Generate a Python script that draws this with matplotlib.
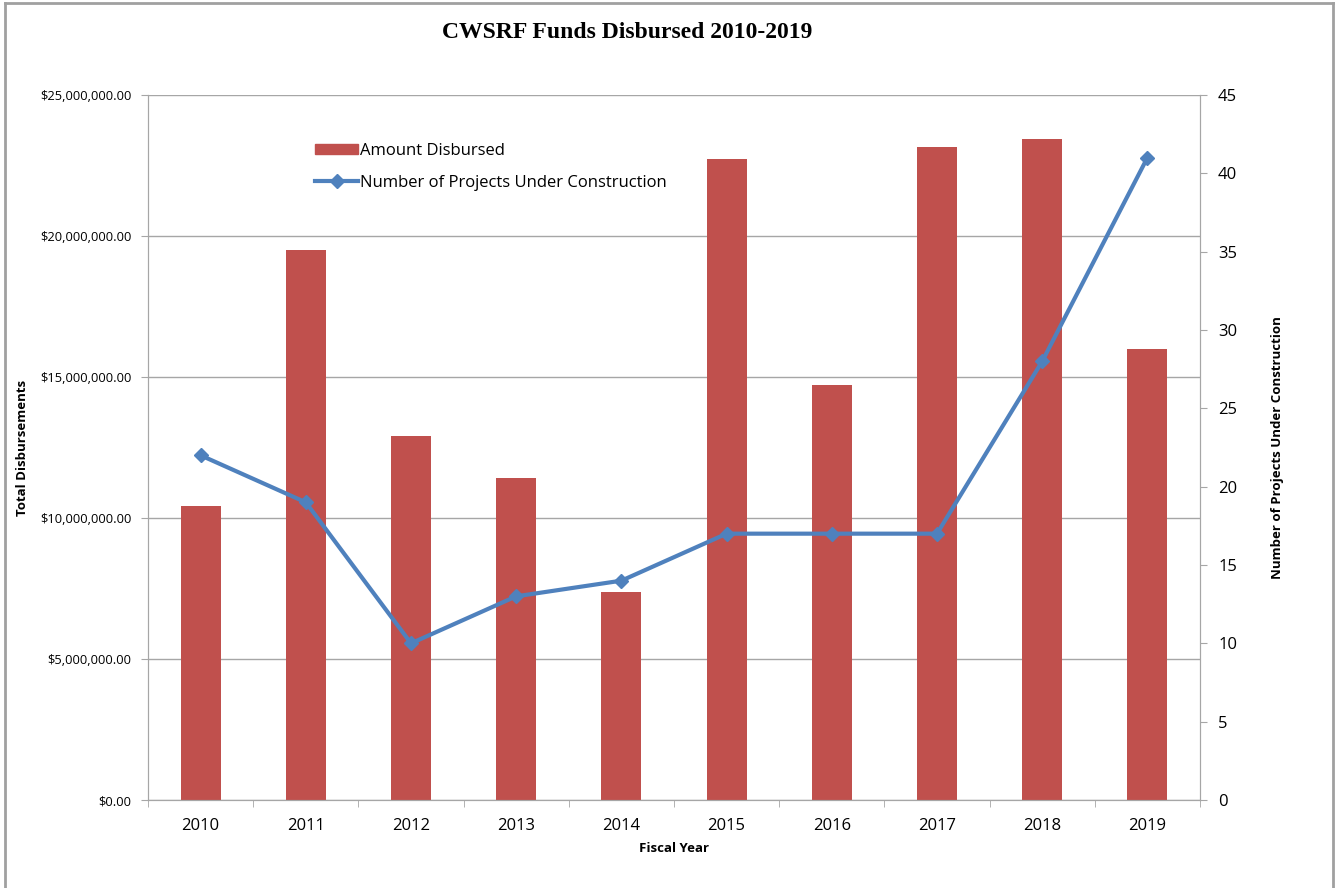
import matplotlib
matplotlib.use("Agg")
import matplotlib.pyplot as plt
from matplotlib.lines import Line2D
from matplotlib.ticker import FuncFormatter, MultipleLocator

years = ["2010", "2011", "2012", "2013", "2014", "2015", "2016", "2017", "2018", "2019"]
disbursed = [10430000, 19500000, 12900000, 11420000, 7380000, 22730000, 14720000, 23160000, 23440000, 15990000]
projects = [22, 19, 10, 13, 14, 17, 17, 17, 28, 41]

plt.rcParams['font.family'] = ['Open Sans', 'DejaVu Sans']

W, H = 1335, 888
fig = plt.figure(figsize=(W / 100, H / 100), dpi=100)
ax = fig.add_axes([148 / W, 1 - 800 / H, (1200 - 148) / W, (800 - 95) / H])
ax2 = ax.twinx()

x = list(range(len(years)))
bar_color = "#C0504D"
line_color = "#4F81BD"
grid_color = "#A6A6A6"

ax.bar(x, disbursed, width=0.38, color=bar_color, zorder=2, label="Amount Disbursed")
ax2.plot(x, projects, color=line_color, lw=3, marker="D", ms=7, zorder=3,
         label="Number of Projects Under Construction")

ax.set_xlim(-0.5, len(years) - 0.5)
ax.set_ylim(0, 25000000)
ax2.set_ylim(0, 45)
ax.yaxis.set_major_locator(MultipleLocator(5000000))
ax2.yaxis.set_major_locator(MultipleLocator(5))
ax.yaxis.set_major_formatter(FuncFormatter(lambda v, p: "${:,.2f}".format(v)))
ax.grid(axis="y", color=grid_color, lw=1, zorder=0)
ax.set_axisbelow(True)

ax.set_xticks(x)
ax.set_xticklabels(years, fontsize=12)
ax.set_xticks([i - 0.5 for i in range(len(years) + 1)], minor=True)
ax.tick_params(axis="x", which="major", length=0, pad=13)
ax.tick_params(axis="x", which="minor", length=5, color=grid_color, direction="out")
ax.tick_params(axis="y", labelsize=9.3, length=5, color=grid_color, pad=7)
ax2.tick_params(axis="y", labelsize=12, length=5, color=grid_color, pad=8)

for a in (ax, ax2):
    for s in a.spines.values():
        s.set_color(grid_color)
    a.spines["top"].set_visible(False)

ax.set_xlabel("Fiscal Year", fontsize=9.5, fontweight="bold", labelpad=6)
ax.set_ylabel("Total Disbursements", fontsize=9.5, fontweight="bold", labelpad=8)
ax2.set_ylabel("Number of Projects Under Construction", fontsize=9.5, fontweight="bold", labelpad=24)

fig.text(627 / W, 1 - 32 / H, "CWSRF Funds Disbursed 2010-2019", ha="center", va="center",
         fontsize=17, fontweight="bold", family="Liberation Serif")

handles = [plt.Rectangle((0, 0), 1, 1, color=bar_color),
           Line2D([0], [0], color=line_color, lw=3, marker="D", ms=7)]
labels = ["Amount Disbursed", "Number of Projects Under Construction"]
fig.legend(handles, labels, loc="upper left", bbox_to_anchor=(300 / W, 1 - 128 / H),
           frameon=False, fontsize=12, handlelength=2.6, handleheight=0.6,
           handletextpad=0.1, labelspacing=0.95)

# outer border
fig.add_artist(Line2D([5 / W, 5 / W], [0, 1 - 3 / H], color="#A0A0A0", lw=2, transform=fig.transFigure))
fig.add_artist(Line2D([5 / W, 1333 / W], [1 - 3 / H, 1 - 3 / H], color="#A0A0A0", lw=2, transform=fig.transFigure))
fig.add_artist(Line2D([1333 / W, 1333 / W], [0, 1 - 3 / H], color="#A0A0A0", lw=2, transform=fig.transFigure))

fig.savefig("out.png", dpi=100, facecolor="white")
